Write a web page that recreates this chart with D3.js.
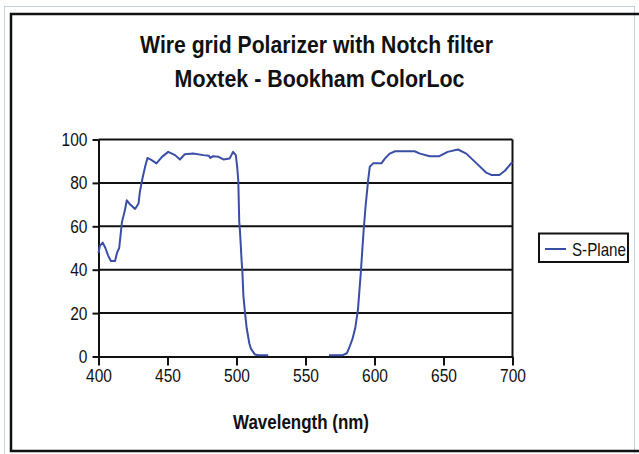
<!DOCTYPE html>
<html><head><meta charset="utf-8">
<script src="https://cdn.jsdelivr.net/npm/d3@7"></script>
<style>html,body{margin:0;padding:0;background:#fff;}svg{display:block;}</style>
</head><body>
<svg id="c" width="639" height="454"></svg>
<script>
// ---- data ----
const titleLines = ["Wire grid Polarizer with Notch filter", "Moxtek - Bookham ColorLoc"];
const xAxisTitle = "Wavelength (nm)";
const seriesName = "S-Plane";
const xTicks = [400, 450, 500, 550, 600, 650, 700];
const yTicks = [0, 20, 40, 60, 80, 100];
const wavelength = [400, 401, 403, 405, 407, 409, 412, 413.5, 415, 417, 419, 420.5, 423, 426.5, 429, 430, 432, 434, 435.5, 438.5, 442, 446, 450.5, 455.5, 459, 462.5, 468.5, 476, 480, 481, 483, 487, 490.5, 495, 497.5, 499.5, 500.5, 501.3, 502, 502.5, 503.8, 504.2, 505, 506.2, 507.4, 509.3, 510.5, 513.4, 516, 523,
  545,
  567, 577, 580, 582, 584, 586, 588, 590, 592, 593.5, 595.4, 596.6, 599, 605, 607.5, 611, 615, 625, 629, 633, 640, 647, 653, 660.5, 666.5, 674, 681, 685, 690.5, 694.5, 699, 700];
const sPlane = [47.7, 51, 52.5, 50, 46.5, 44, 44, 48, 50, 62, 67, 72, 70, 68, 70.5, 76, 82.5, 88, 91.5, 90.5, 89, 92, 94.3, 92.8, 90.8, 93.2, 93.5, 92.8, 92.5, 91.5, 92.3, 92, 90.8, 91.2, 94.3, 92.8, 87.4, 81, 62, 58, 43, 40, 28, 20, 13, 6, 3.5, 0.9, 0.6, 0.6,
  null,
  0.6, 0.6, 1.5, 4.6, 8, 13, 21.5, 38, 57, 69, 81.3, 87.5, 89, 89, 91.2, 93.5, 94.6, 94.6, 94.6, 93.5, 92.3, 92.3, 94.3, 95.4, 93.5, 89, 84.7, 83.6, 83.6, 85.6, 89, 89.5];

// ---- layout ----
const FONT = "'Liberation Sans', Arial, sans-serif";
const SX = 0.84;
const svg = d3.select("#c");
const x = d3.scaleLinear().domain([400, 700]).range([98.5, 512.5]);
const y = d3.scaleLinear().domain([0, 100]).range([356.5, 139.5]);

// outer frames
svg.append("rect").attr("x", 4.5).attr("y", 6.5).attr("width", 630).attr("height", 452)
  .attr("fill", "none").attr("stroke", "#c3d3e3").attr("stroke-width", 1);
svg.append("path").attr("d", "M639,14H11V451H639").attr("fill", "none")
  .attr("stroke", "#111").attr("stroke-width", 2.5);

function label(xp, yp, str, size, weight, anchor, target) {
  const g = svg.append("g").attr("transform", `translate(${xp},${yp})`);
  const t = g.append("text").text(str).attr("font-family", FONT).attr("font-size", size)
    .attr("font-weight", weight).attr("text-anchor", anchor).attr("fill", "#111");
  let sx = SX;
  if (target) sx = target / t.node().getComputedTextLength();
  t.attr("transform", `scale(${sx},1)`);
  return t;
}

// titles
label(316.5, 53, titleLines[0], 24, "bold", "middle", 353);
label(319.5, 87, titleLines[1], 24, "bold", "middle", 290);

// gridlines
svg.append("g").selectAll("line").data(yTicks.filter(d => d > 0)).join("line")
  .attr("x1", x(400)).attr("x2", x(700)).attr("y1", d => y(d)).attr("y2", d => y(d))
  .attr("stroke", "#111").attr("stroke-width", 2);
// right border
svg.append("line").attr("x1", x(700)).attr("x2", x(700)).attr("y1", y(100)).attr("y2", y(0))
  .attr("stroke", "#111").attr("stroke-width", 2);

// axes
const yAxis = svg.append("g").attr("transform", `translate(${x(400)},0)`)
  .call(d3.axisLeft(y).tickValues(yTicks).tickSize(6).tickSizeOuter(0).tickPadding(11));
const xAxis = svg.append("g").attr("transform", `translate(0,${y(0)})`)
  .call(d3.axisBottom(x).tickValues(xTicks).tickSize(9).tickSizeOuter(0).tickPadding(3));
[yAxis, xAxis].forEach(a => {
  a.select(".domain").attr("stroke", "#111").attr("stroke-width", 2);
  a.selectAll(".tick line").attr("stroke", "#111").attr("stroke-width", 2);
  a.selectAll("text").attr("font-family", FONT).attr("font-size", 18.5).attr("fill", "#111");
});
yAxis.selectAll(".tick text").attr("x", -11 / SX).attr("transform", `scale(${SX},1)`);
xAxis.selectAll(".tick text").attr("transform", `scale(${SX},1)`);

// axis title
label(301, 429, xAxisTitle, 19.5, "bold", "middle", 136);

// series line
const data = wavelength.map((w, i) => ({ w, v: sPlane[i] }));
const line = d3.line().defined(d => d.v != null).x(d => x(d.w)).y(d => y(d.v));
svg.append("path").datum(data).attr("d", line).attr("fill", "none")
  .attr("stroke", "#3b4ea6").attr("stroke-width", 2).attr("stroke-linejoin", "round");

// legend
svg.append("rect").attr("x", 539).attr("y", 233.5).attr("width", 89).attr("height", 28.5)
  .attr("fill", "#fff").attr("stroke", "#111").attr("stroke-width", 2);
svg.append("line").attr("x1", 545).attr("x2", 566).attr("y1", 249).attr("y2", 249)
  .attr("stroke", "#3b4ea6").attr("stroke-width", 2);
label(572, 255.5, seriesName, 17.5, "normal", "start", 54);
</script>
</body></html>
